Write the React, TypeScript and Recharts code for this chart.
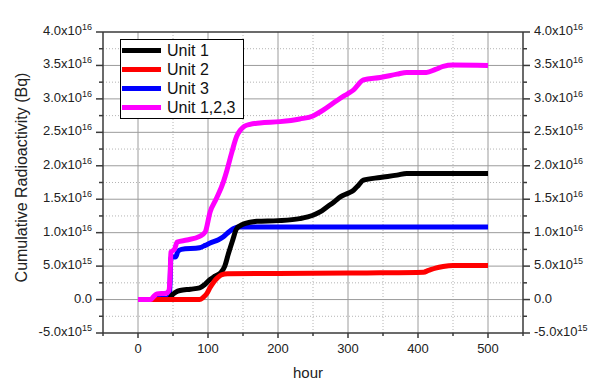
import { LineChart, Line, XAxis, YAxis, CartesianGrid, Legend } from "recharts"

// hours vs cumulative release, values in units of 1e15 Bq
const unit1: [number, number][] = [
  [0, 0], [44, 0], [48, 0.6], [54, 1.1], [60, 1.35], [75, 1.55], [88, 1.75],
  [96, 2.3], [103, 3.0], [110, 3.5], [119, 4.1], [124, 5.0], [129, 6.8],
  [135, 8.8], [141, 10.6], [150, 11.25], [160, 11.55], [170, 11.7],
  [200, 11.8], [231, 12.1], [250, 12.6], [260, 13.1], [270, 13.85],
  [280, 14.6], [289, 15.35], [300, 15.9], [308, 16.35], [315, 17.1],
  [322, 17.85], [346, 18.25], [370, 18.6], [384, 18.85], [500, 18.85],
]

const unit2: [number, number][] = [
  [0, 0], [88, 0], [93, 0.3], [98, 0.85], [103, 1.8], [108, 2.6], [113, 3.2],
  [119, 3.7], [128, 3.85], [200, 3.9], [300, 3.97], [346, 4.0], [408, 4.1],
  [415, 4.35], [425, 4.7], [436, 4.95], [450, 5.1], [500, 5.1],
]

const unit3: [number, number][] = [
  [0, 0], [22, 0], [27, 0.2], [44, 0.2], [46, 3.0], [47, 6.3], [54, 6.4],
  [57, 7.2], [62, 7.5], [88, 7.75], [96, 8.1], [103, 8.45], [115, 8.95],
  [122, 9.4], [127, 9.85], [136, 10.6], [145, 10.85], [500, 10.85],
]

const unitAll: [number, number][] = [
  [0, 0], [18, 0], [22, 0.4], [27, 0.85], [40, 0.95], [44, 1.3], [46, 4.0],
  [47, 7.1], [52, 7.5], [56, 8.6], [70, 8.9], [88, 9.45], [96, 10.1],
  [103, 13.1], [112, 15.1], [122, 17.6], [127, 19.3], [134, 22.0],
  [141, 24.4], [146, 25.3], [152, 25.9], [160, 26.2], [174, 26.4],
  [203, 26.6], [231, 27.0], [250, 27.45], [265, 28.35], [278, 29.3],
  [289, 30.1], [300, 30.8], [308, 31.35], [322, 32.85], [346, 33.2],
  [370, 33.7], [384, 33.95], [412, 33.95], [425, 34.4], [436, 34.85],
  [450, 35.05], [500, 35.0],
]

const hourTicks = [-50, 0, 50, 100, 150, 200, 250, 300, 350, 400, 450, 500, 550]
const bqTicks = [-5, -2.5, 0, 2.5, 5, 7.5, 10, 12.5, 15, 17.5, 20, 22.5, 25, 27.5, 30, 32.5, 35, 37.5, 40]
const hourGridMajor = [0, 100, 200, 300, 400, 500]
const hourGridMinor = [50, 150, 250, 350, 450]
const bqGridMajor = [0, 5, 10, 15, 20, 25, 30, 35]
const bqGridMinor = [-2.5, 2.5, 7.5, 12.5, 17.5, 22.5, 27.5, 32.5, 37.5]

const HOUR_DOMAIN: [number, number] = [-50, 550]
const BQ_DOMAIN: [number, number] = [-5, 40]

const series = [
  { name: "Unit 1", color: "#000000", points: unit1 },
  { name: "Unit 2", color: "#ff0000", points: unit2 },
  { name: "Unit 3", color: "#0000ff", points: unit3 },
  { name: "Unit 1,2,3", color: "#ff00ff", points: unitAll },
]
// drawing order (last on top)
const drawOrder = ["Unit 3", "Unit 1", "Unit 2", "Unit 1,2,3"]

// layout
const W = 598
const H = 382
const LEFT_W = 103
const RIGHT_W = 75
const TOP_H = 32
const BOTTOM_H = 49
const PLOT_LEFT = LEFT_W
const PLOT_RIGHT = W - RIGHT_W
const PLOT_TOP = TOP_H
const PLOT_BOTTOM = H - BOTTOM_H

const FONT = '"Liberation Sans", Arial, Helvetica, sans-serif'
const AXIS = "#3a3a3a"
const GRID_MAJOR = "#9c9c9c"
const GRID_MINOR = "#b4b4b4"

// same linear mapping the axes use (number axes over the plot box)
const hourPx = (h: number) =>
  PLOT_LEFT + ((h - HOUR_DOMAIN[0]) / (HOUR_DOMAIN[1] - HOUR_DOMAIN[0])) * (PLOT_RIGHT - PLOT_LEFT)
const bqPx = (v: number) =>
  PLOT_TOP + ((BQ_DOMAIN[1] - v) / (BQ_DOMAIN[1] - BQ_DOMAIN[0])) * (PLOT_BOTTOM - PLOT_TOP)

function sci(v: number) {
  if (v === 0) return { mant: "0.0", exp: "" }
  const exp = Math.abs(v) >= 10 ? 16 : 15
  const mant = exp === 16 ? v / 10 : v
  return { mant: `${mant.toFixed(1)}x10`, exp: String(exp) }
}

const isMajor = (v: number, step: number) => Math.abs(v / step - Math.round(v / step)) < 1e-9

function BqTick(props: any) {
  const { x, y, payload, side } = props
  const v = payload.value
  const major = isMajor(v, 5)
  const dir = side === "left" ? -1 : 1
  const len = major ? 7 : 4
  const { mant, exp } = sci(v)
  return (
    <g>
      <line x1={x} x2={x + dir * len} y1={y} y2={y} stroke={AXIS} strokeWidth={1.5} />
      {major && (
        <text
          x={x + dir * 11}
          y={y + 3}
          textAnchor={side === "left" ? "end" : "start"}
          fontFamily={FONT}
          fontSize={13}
          fill="#222"
        >
          {mant}
          {exp && (
            <tspan dy={-5} fontSize={9}>
              {exp}
            </tspan>
          )}
        </text>
      )}
    </g>
  )
}

function HourTick(props: any) {
  const { x, y, payload, side } = props
  const v = payload.value
  const major = isMajor(v, 100)
  const dir = side === "top" ? -1 : 1
  const len = major ? 5 : 3
  return (
    <g>
      <line x1={x} x2={x} y1={y} y2={y + dir * len} stroke={AXIS} strokeWidth={1.5} />
      {major && (
        <text
          x={x}
          y={side === "top" ? y - 12 : y + 20}
          textAnchor="middle"
          fontFamily={FONT}
          fontSize={13}
          fill="#222"
        >
          {v}
        </text>
      )}
    </g>
  )
}

function YTitle(props: any) {
  const { viewBox } = props
  const cx = 27
  const cy = viewBox.y + viewBox.height / 2 - 5
  return (
    <text
      x={cx}
      y={cy}
      transform={`rotate(-90, ${cx}, ${cy})`}
      textAnchor="middle"
      fontFamily={FONT}
      fontSize={16}
      fill="#222"
    >
      Cumulative Radioactivity (Bq)
    </text>
  )
}

function XTitle(props: any) {
  const { viewBox } = props
  return (
    <text
      x={viewBox.x + viewBox.width / 2 - 5}
      y={PLOT_BOTTOM + 45}
      textAnchor="middle"
      fontFamily={FONT}
      fontSize={15}
      fill="#222"
    >
      hour
    </text>
  )
}

function LegendBox() {
  return (
    <div
      style={{
        border: "1px solid #000",
        background: "#fff",
        width: 121,
        padding: "1px 0 1px 1px",
        fontFamily: FONT,
        fontSize: 16,
        color: "#111",
        boxSizing: "content-box",
      }}
    >
      {series.map((s) => (
        <div key={s.name} style={{ display: "flex", alignItems: "center", height: 19 }}>
          <div style={{ width: 39, height: 5, background: s.color, marginRight: 6 }} />
          <span style={{ lineHeight: "19px" }}>{s.name}</span>
        </div>
      ))}
    </div>
  )
}

export default function App() {
  return (
    <div style={{ position: "absolute", left: 0, top: 0, width: W, height: H, background: "#fff" }}>
      <LineChart width={W} height={H} margin={{ top: 0, right: 0, bottom: 0, left: 0 }}>
        {/* dotted minor grid, then solid major grid, both under the series */}
        <CartesianGrid
          xAxisId="bottom"
          yAxisId="left"
          stroke={GRID_MINOR}
          strokeDasharray="1 2"
          verticalPoints={hourGridMinor.map(hourPx)}
          horizontalPoints={bqGridMinor.map(bqPx)}
        />
        <CartesianGrid
          xAxisId="bottom"
          yAxisId="left"
          stroke={GRID_MAJOR}
          verticalPoints={hourGridMajor.map(hourPx)}
          horizontalPoints={bqGridMajor.map(bqPx)}
        />

        <XAxis
          xAxisId="bottom"
          dataKey="hour"
          type="number"
          orientation="bottom"
          domain={HOUR_DOMAIN}
          allowDataOverflow
          ticks={hourTicks}
          interval={0}
          height={BOTTOM_H}
          tickSize={0}
          tickMargin={0}
          tickLine={false}
          axisLine={{ stroke: AXIS, strokeWidth: 1.5 }}
          tick={<HourTick side="bottom" />}
          label={<XTitle />}
        />
        <XAxis
          xAxisId="top"
          type="number"
          orientation="top"
          domain={HOUR_DOMAIN}
          allowDataOverflow
          ticks={hourTicks}
          interval={0}
          height={TOP_H}
          tickSize={0}
          tickMargin={0}
          tickLine={false}
          axisLine={{ stroke: AXIS, strokeWidth: 1.5 }}
          tick={<HourTick side="top" />}
        />
        <YAxis
          yAxisId="left"
          type="number"
          orientation="left"
          domain={BQ_DOMAIN}
          allowDataOverflow
          ticks={bqTicks}
          interval={0}
          width={LEFT_W}
          tickSize={0}
          tickMargin={0}
          tickLine={false}
          axisLine={{ stroke: AXIS, strokeWidth: 1.5 }}
          tick={<BqTick side="left" />}
          label={<YTitle />}
        />
        <YAxis
          yAxisId="right"
          type="number"
          orientation="right"
          domain={BQ_DOMAIN}
          allowDataOverflow
          ticks={bqTicks}
          interval={0}
          width={RIGHT_W}
          tickSize={0}
          tickMargin={0}
          tickLine={false}
          axisLine={{ stroke: AXIS, strokeWidth: 1.5 }}
          tick={<BqTick side="right" />}
        />

        {drawOrder.map((name) => {
          const s = series.find((d) => d.name === name)!
          return (
            <Line
              key={s.name}
              xAxisId="bottom"
              yAxisId="left"
              data={s.points.map(([hour, value]) => ({ hour, value }))}
              dataKey="value"
              name={s.name}
              type="monotone"
              stroke={s.color}
              strokeWidth={5}
              dot={false}
              activeDot={false}
              isAnimationActive={false}
            />
          )
        })}

        <Legend
          layout="vertical"
          align="center"
          verticalAlign="middle"
          wrapperStyle={{ left: 120, top: 39, width: 124, height: 80 }}
          content={() => <LegendBox />}
        />
      </LineChart>
    </div>
  )
}
